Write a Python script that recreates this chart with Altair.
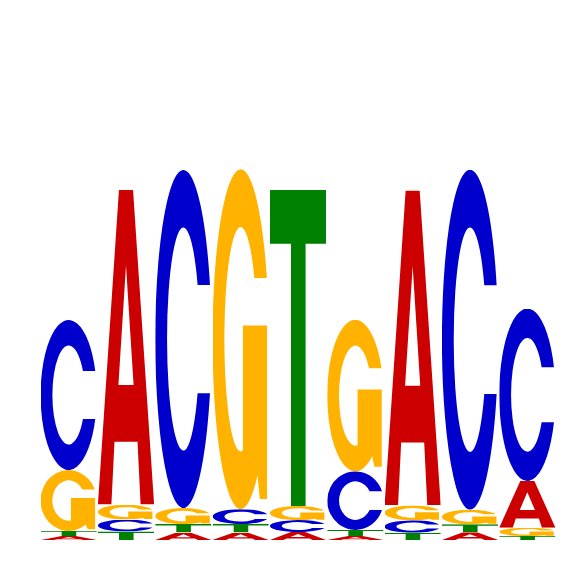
import base64
import pandas as pd
import altair as alt

# information content (bits) per position
positions = [1, 2, 3, 4, 5, 6, 7, 8, 9]
A_bits = [0.015, 1.184, 0.028, 0.028, 0.030, 0.015, 1.184, 0.029, 0.176]
C_bits = [0.564, 0.045, 1.271, 0.056, 0.045, 0.220, 0.047, 1.278, 0.648]
G_bits = [0.229, 0.056, 0.060, 1.278, 0.053, 0.570, 0.056, 0.055, 0.031]
T_bits = [0.019, 0.032, 0.032, 0.032, 1.188, 0.023, 0.027, 0.030, 0.015]

# --- letter glyphs (unit box, stretched to fit each stack slot) ---
glyph_paths = {
    "A": "M0,100 L37.5,0 L62.5,0 L100,100 L76,100 L70.5,80 L29.5,80 L24,100 Z "
         "M36.5,62 L63.5,62 L50,24 Z",
    "C": "M97.4,34 A50,50 0 1 0 97.4,66 L75.4,66 A29,33 0 1 1 75.4,34 Z",
    "G": "M96.6,32 A50,50 0 1 0 80,90 L84,97 L97,97 L97,46 L54,46 L54,82.7 "
         "A29,33 0 1 1 74.3,32 Z",
    "T": "M0,0 L100,0 L100,17 L63.5,17 L63.5,100 L37.5,100 L37.5,17 L0,17 Z",
}
glyph_colors = {"A": "#CC0000", "C": "#0000CC", "G": "#FFB300", "T": "#008000"}


def glyph_uri(letter):
    svg = (
        '<svg xmlns="http://www.w3.org/2000/svg" width="100" height="100" '
        'viewBox="0 0 100 100" preserveAspectRatio="none">'
        f'<path d="{glyph_paths[letter]}" fill="{glyph_colors[letter]}" fill-rule="evenodd"/>'
        "</svg>"
    )
    return "data:image/svg+xml;base64," + base64.b64encode(svg.encode()).decode()


rows = []
for letter, vals in [("A", A_bits), ("C", C_bits), ("G", G_bits), ("T", T_bits)]:
    for pos, v in zip(positions, vals):
        rows.append({"pos": pos, "letter": letter, "bits": v, "url": glyph_uri(letter)})
df = pd.DataFrame(rows)

logo = alt.Chart(df).mark_image(aspect=False).transform_stack(
    stack="bits",
    groupby=["pos"],
    sort=[alt.SortField("bits", order="ascending")],
    as_=["y0", "y1"],
).transform_calculate(
    x0="datum.pos - 0.49",
    x1="datum.pos + 0.49",
).encode(
    alt.X("x0:Q", scale=alt.Scale(domain=[0.5, 9.5], nice=False, zero=False), axis=None),
    alt.X2("x1:Q"),
    alt.Y("y0:Q", scale=alt.Scale(domain=[0, 2], nice=False), axis=None),
    alt.Y2("y1:Q"),
    url="url:N",
).properties(
    width=516,
    height=532,
    autosize=alt.AutoSizeParams(type="none"),
    padding={"left": 32, "top": 0, "right": 0, "bottom": 0},
).configure_view(strokeWidth=0)

logo.save("out.html", embed_options={"renderer": "svg", "actions": False})
